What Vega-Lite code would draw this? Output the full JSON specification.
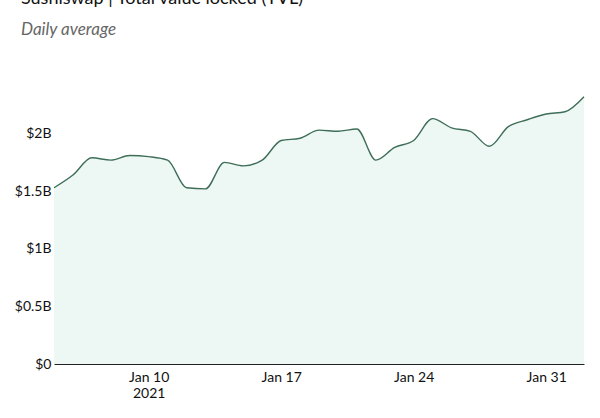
{
  "$schema": "https://vega.github.io/schema/vega-lite/v6.json",
  "autosize": "none",
  "width": 530,
  "height": 288,
  "padding": {"left": 54, "top": 76, "right": 16, "bottom": 54},
  "background": "white",
  "config": {
    "font": "Lato",
    "view": {"stroke": null},
    "axis": {"labelFont": "Lato", "labelFontSize": 14, "labelColor": "#111111", "grid": false, "ticks": false, "title": null}
  },
  "title": {
    "text": "Sushiswap | Total value locked (TVL)",
    "subtitle": "Daily average",
    "anchor": "start",
    "frame": "group",
    "dx": -33,
    "offset": 38,
    "fontSize": 18,
    "fontWeight": "normal",
    "color": "#111111",
    "subtitleFontSize": 17,
    "subtitleFontStyle": "italic",
    "subtitleColor": "#666666",
    "subtitlePadding": 14
  },
  "data": {
    "values": [
      {"date": "Jan 5, 2021", "tvl": 1.53},
      {"date": "Jan 6, 2021", "tvl": 1.64},
      {"date": "Jan 7, 2021", "tvl": 1.79},
      {"date": "Jan 8, 2021", "tvl": 1.77},
      {"date": "Jan 9, 2021", "tvl": 1.81},
      {"date": "Jan 10, 2021", "tvl": 1.80},
      {"date": "Jan 11, 2021", "tvl": 1.77},
      {"date": "Jan 12, 2021", "tvl": 1.53},
      {"date": "Jan 13, 2021", "tvl": 1.52},
      {"date": "Jan 14, 2021", "tvl": 1.75},
      {"date": "Jan 15, 2021", "tvl": 1.72},
      {"date": "Jan 16, 2021", "tvl": 1.77},
      {"date": "Jan 17, 2021", "tvl": 1.94},
      {"date": "Jan 18, 2021", "tvl": 1.96},
      {"date": "Jan 19, 2021", "tvl": 2.03},
      {"date": "Jan 20, 2021", "tvl": 2.02},
      {"date": "Jan 21, 2021", "tvl": 2.04},
      {"date": "Jan 22, 2021", "tvl": 1.77},
      {"date": "Jan 23, 2021", "tvl": 1.88},
      {"date": "Jan 24, 2021", "tvl": 1.94},
      {"date": "Jan 25, 2021", "tvl": 2.13},
      {"date": "Jan 26, 2021", "tvl": 2.05},
      {"date": "Jan 27, 2021", "tvl": 2.02},
      {"date": "Jan 28, 2021", "tvl": 1.89},
      {"date": "Jan 29, 2021", "tvl": 2.06},
      {"date": "Jan 30, 2021", "tvl": 2.12},
      {"date": "Jan 31, 2021", "tvl": 2.17},
      {"date": "Feb 1, 2021", "tvl": 2.19},
      {"date": "Feb 2, 2021", "tvl": 2.32}
    ]
  },
  "mark": {
    "type": "area",
    "interpolate": "monotone",
    "color": "#e6f5ef",
    "line": {"color": "#3e6e58", "strokeWidth": 1.4}
  },
  "encoding": {
    "x": {
      "field": "date",
      "type": "temporal",
      "scale": {"nice": false},
      "axis": {
        "values": [
          {"year": 2021, "month": 1, "date": 10},
          {"year": 2021, "month": 1, "date": 17},
          {"year": 2021, "month": 1, "date": 24},
          {"year": 2021, "month": 1, "date": 31}
        ],
        "labelExpr": "date(datum.value) == 10 ? [timeFormat(datum.value, '%b %-d'), '2021'] : timeFormat(datum.value, '%b %-d')",
        "domainColor": "#222222",
        "domainWidth": 1,
        "labelPadding": 6,
        "labelLineHeight": 16
      }
    },
    "y": {
      "field": "tvl",
      "type": "quantitative",
      "scale": {"domain": [0, 2.5], "nice": false},
      "axis": {
        "values": [0, 0.5, 1, 1.5, 2],
        "labelExpr": "datum.value == 0 ? '$0' : '$' + datum.value + 'B'",
        "domain": false,
        "labelPadding": 3
      }
    }
  }
}
